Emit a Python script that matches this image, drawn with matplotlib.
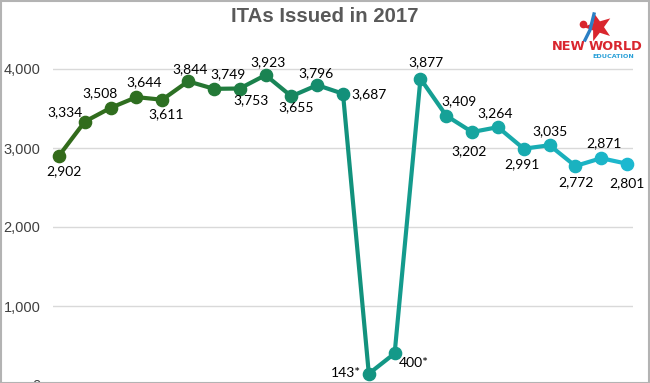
import matplotlib
matplotlib.use("Agg")
import matplotlib.pyplot as plt
import numpy as np
from matplotlib.colors import LinearSegmentedColormap
from matplotlib.patches import Rectangle, Polygon

# ---- data ----
draws = list(range(1, 24))
itas = [2902, 3334, 3508, 3644, 3611, 3844, 3749, 3753, 3923, 3655, 3796, 3687,
        143, 400, 3877, 3409, 3202, 3264, 2991, 3035, 2772, 2871, 2801]
labels = ["2,902", "3,334", "3,508", "3,644", "3,611", "3,844", "3,749", "3,753",
          "3,923", "3,655", "3,796", "3,687", "143*", "400*", "3,877", "3,409",
          "3,202", "3,264", "2,991", "3,035", "2,772", "2,871", "2,801"]
y_ticks = [0, 1000, 2000, 3000, 4000]
y_ticklabels = ["0", "1,000", "2,000", "3,000", "4,000"]
title = "ITAs Issued in 2017"

# ---- label placement (style, pixel offsets, alignment) ----
label_offsets = [(5, -15), (-20, 9), (-11, 15), (8, 15), (4, -14), (2, 12),
                 (14, 15), (11, -12), (2, 13), (5, -11), (-1, 12), (8, 0),
                 (-8, 1), (4, -10), (5, 17), (13, 15), (-3, -19), (-3, 14),
                 (-2, -15), (0, 14), (1, -16), (3, 15), (0, -19)]
label_ha = ["center"] * 23
label_ha[11] = "left"
label_ha[12] = "right"
label_ha[13] = "left"

W, H = 650, 383
fig = plt.figure(figsize=(W / 100, H / 100), dpi=100)

# axes placement
px_x0, px_x1 = 53, 633
px_y0 = 385          # y pixel of value 0
px_per_k = 79.0      # pixels per 1000
ytop = 4400
px_ytop = px_y0 - ytop / 1000 * px_per_k
ax = fig.add_axes([px_x0 / W, (H - px_y0) / H, (px_x1 - px_x0) / W, (px_y0 - px_ytop) / H])

step = (627 - 59) / 22
ax.set_xlim(draws[0] - 6 / step, draws[-1] + 6 / step)
ax.set_ylim(0, ytop)

for s in ax.spines.values():
    s.set_visible(False)
ax.set_yticks(y_ticks)
ax.set_yticklabels(y_ticklabels, fontsize=10.5, color="#404040", family="Liberation Sans")
ax.tick_params(axis="y", length=0, pad=9)
ax.set_xticks([])
ax.grid(axis="y", color="#d9d9d9", linewidth=1.0)
ax.set_axisbelow(True)

cmap = LinearSegmentedColormap.from_list(
    "ita", [(0.0, "#336b1a"), (0.2, "#2c7023"), (0.33, "#1c8048"),
            (0.5, "#12907a"), (0.7, "#16a39a"), (1.0, "#1cb8d0")])
n = len(itas)
cols = [cmap(i / (n - 1)) for i in range(n)]

for i in range(n - 1):
    ax.plot(draws[i:i + 2], itas[i:i + 2], color=cmap((i + 0.5) / (n - 1)),
            linewidth=3.0, solid_capstyle="round", zorder=2, clip_on=False)
for i in range(n):
    ax.plot(draws[i], itas[i], "o", color=cols[i], markersize=8.8, zorder=3, clip_on=False)

for i in range(n):
    dx, dy = label_offsets[i]
    ax.annotate(labels[i], (draws[i], itas[i]), xytext=(dx, dy), textcoords="offset pixels",
                ha=label_ha[i], va="center", fontsize=10, color="#000000", family="Lato",
                zorder=4, annotation_clip=False)

fig.text(0.5, 1 - 17 / H, title, ha="center", va="center", fontsize=14.7,
         fontweight="bold", color="#595959", family="Liberation Sans")

# logo
pts = []
for k in range(10):
    ang = np.pi / 2 + k * np.pi / 5 + 0.3
    rad = 15 if k % 2 == 0 else 6
    pts.append((598 + rad * np.cos(ang), 27 - rad * np.sin(ang)))
pts = [(x / W, 1 - y / H) for x, y in pts]
fig.patches.append(Polygon(pts, closed=True, transform=fig.transFigure,
                           facecolor="#d9262e", edgecolor="none", zorder=5))
fig.lines.append(plt.Line2D([585 / W, 590 / W, 594 / W], [1 - 40 / H, 1 - 30 / H, 1 - 14 / H],
                            transform=fig.transFigure, color="#2a7fc4", linewidth=2.4, zorder=6))
fig.lines.append(plt.Line2D([583 / W], [1 - 24 / H], marker="o", markersize=4.5,
                            transform=fig.transFigure, color="#d9262e", zorder=7))
fig.text(586 / W, 1 - 46 / H, "NEW", ha="right", va="center", fontsize=9.3, fontweight="bold",
         color="#d9262e", family="Liberation Sans Narrow")
fig.text(589 / W, 1 - 46 / H, "WORLD", ha="left", va="center", fontsize=9.3, fontweight="bold",
         color="#d9262e", family="Liberation Sans Narrow")
fig.text(613 / W, 1 - 57 / H, "EDUCATION", ha="center", va="center", fontsize=4.6, fontweight="bold",
         color="#2aa0d8", family="DejaVu Sans")

# frame
fig.patches.append(Rectangle((0.5 / W, 0.5 / H), 1 - 1.5 / W, 1 - 1.5 / H, transform=fig.transFigure,
                             fill=False, edgecolor="#b3b3b3", linewidth=1.5, zorder=10))

fig.savefig("out.png", dpi=100)
